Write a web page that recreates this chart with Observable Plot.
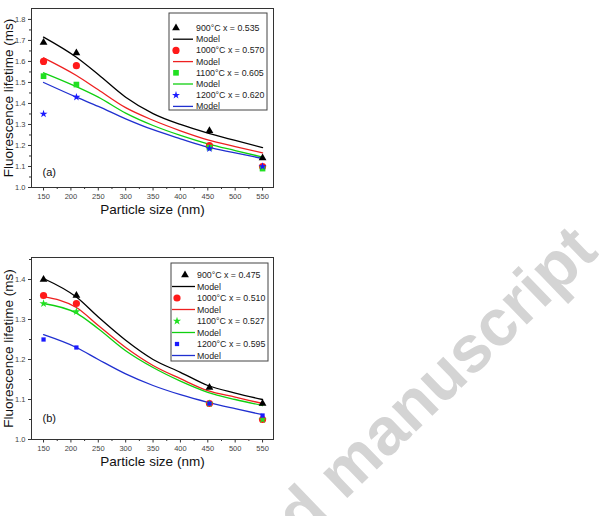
<!DOCTYPE html>
<html><head><meta charset="utf-8">
<script src="https://cdn.jsdelivr.net/npm/d3@7"></script>
<script src="https://cdn.jsdelivr.net/npm/@observablehq/plot@0.6"></script>
<style>
body{margin:0;background:#fff;width:603px;height:516px;overflow:hidden;position:relative;font-family:"Liberation Sans",Arial,sans-serif}
.panel{position:absolute;left:0}
#overlay{position:absolute;left:0;top:0;pointer-events:none}
</style></head><body>
<div id="pa" class="panel" style="top:0px"></div>
<div id="pb" class="panel" style="top:250px"></div>
<svg id="overlay" width="603" height="516"></svg>
<script>
// ---- data ----
const particleSize = [150, 210, 453, 550];
const modelSize = [150, 210, 250, 300, 350, 400, 450, 500, 550];
const xTicks = [150, 200, 250, 300, 350, 400, 450, 500, 550];
const xMinor = [175, 225, 275, 325, 375, 425, 475, 525];
const xLabel = "Particle size (nm)";
const yLabel = "Fluorescence lifetime (ms)";

// panel (a)
const namesA = ["900°C x = 0.535", "1000°C x = 0.570", "1100°C x = 0.605", "1200°C x = 0.620"];
const a900 = [1.69, 1.64, 1.27, 1.14];
const a1000 = [1.60, 1.58, 1.20, 1.10];
const a1100 = [1.53, 1.49, 1.19, 1.09];
const a1200 = [1.35, 1.43, 1.185, 1.10];
const modelA900 = [1.716, 1.62, 1.538, 1.43, 1.352, 1.30, 1.259, 1.224, 1.19];
const modelA1000 = [1.617, 1.533, 1.465, 1.38, 1.32, 1.27, 1.227, 1.195, 1.165];
const modelA1100 = [1.546, 1.48, 1.43, 1.354, 1.295, 1.248, 1.208, 1.176, 1.145];
const modelA1200 = [1.50, 1.43, 1.386, 1.327, 1.275, 1.232, 1.192, 1.165, 1.138];
const yTicksA = [1.0, 1.1, 1.2, 1.3, 1.4, 1.5, 1.6, 1.7, 1.8];
const yMinorA = [1.05, 1.15, 1.25, 1.35, 1.45, 1.55, 1.65, 1.75];

// panel (b)
const namesB = ["900°C x = 0.475", "1000°C x = 0.510", "1100°C x = 0.527", "1200°C x = 0.595"];
const b900 = [1.40, 1.36, 1.13, 1.09];
const b1000 = [1.36, 1.34, 1.09, 1.05];
const b1100 = [1.34, 1.32, 1.09, 1.05];
const b1200 = [1.25, 1.23, 1.09, 1.06];
const modelB900 = [1.4025, 1.356, 1.306, 1.248, 1.20, 1.168, 1.135, 1.116, 1.10];
const modelB1000 = [1.357, 1.33, 1.285, 1.23, 1.185, 1.152, 1.122, 1.106, 1.09];
const modelB1100 = [1.34, 1.316, 1.277, 1.222, 1.18, 1.146, 1.118, 1.10, 1.085];
const modelB1200 = [1.262, 1.23, 1.20, 1.164, 1.135, 1.112, 1.093, 1.077, 1.062];
const yTicksB = [1.0, 1.1, 1.2, 1.3, 1.4];
const yMinorB = [1.05, 1.15, 1.25, 1.35, 1.45];

// ---- styles ----
const FONT = "Liberation Sans, Arial, Helvetica, sans-serif";
const dotColors = ["#000000", "#ff1a1a", "#22e022", "#1a1aff"];
const lineColors = ["#000000", "#ee2020", "#10d010", "#2030d0"];

function panel(opts) {
  const {yDomain, yTicks, yMinor, meas, models, symbols, radii, tag, marginTop, marginBottom, tagDy} = opts;
  const marks = [
    Plot.axisX({ticks: xTicks, tickSize: 3.5, tickPadding: 2.5, fontSize: 7.5, label: null, tickFormat: d => String(d), stroke: "#333", fill: "#444"}),
    Plot.axisX({ticks: xMinor, tickSize: 2, text: null, label: null, stroke: "#333"}),
    Plot.axisY({ticks: yTicks, tickSize: 3, tickPadding: 3, fontSize: 7.5, label: null, tickFormat: d3.format(".1f"), stroke: "#333", fill: "#444"}),
    Plot.axisY({ticks: yMinor, tickSize: 2, text: null, label: null, stroke: "#333"})
  ];
  models.forEach((vals, i) => {
    const rows = vals.map((v, j) => ({x: modelSize[j], y: v}));
    marks.push(Plot.line(rows, {x: "x", y: "y", stroke: lineColors[i], strokeWidth: 1.3, curve: "monotone-x"}));
  });
  meas.forEach((vals, i) => {
    const rows = vals.map((v, j) => ({x: particleSize[j], y: v}));
    marks.push(Plot.dot(rows, {x: "x", y: "y", symbol: symbols[i], r: radii[i], fill: dotColors[i], stroke: "none"}));
  });
  marks.push(
    Plot.frame({stroke: "#333", strokeWidth: 1}),
    Plot.text([tag], {frameAnchor: "bottom-left", dx: 11, dy: tagDy, fontSize: 11, textAnchor: "start", fill: "#111"}),
    Plot.text([xLabel], {frameAnchor: "bottom", dy: 26, fontSize: 13.5, textAnchor: "middle", fill: "#111"}),
    Plot.text([yLabel], {frameAnchor: "left", dx: -22.5, rotate: -90, fontSize: 13.5, textAnchor: "middle", fill: "#111"})
  );
  return Plot.plot({
    width: 340, height: 240,
    marginLeft: 31, marginRight: 67, marginTop, marginBottom,
    style: {fontFamily: FONT, background: "white", overflow: "visible"},
    x: {domain: [128, 570]},
    y: {domain: yDomain},
    marks
  });
}

const symA = ["triangle", "circle", "square", "star"];
const radA = [2.9, 3.6, 3.2, 2.5];
const symB = ["triangle", "circle", "star", "square"];
const radB = [2.9, 3.6, 2.6, 2.4];

document.getElementById("pa").append(panel({
  yDomain: [1.0, 1.852], yTicks: yTicksA, yMinor: yMinorA,
  meas: [a900, a1000, a1100, a1200],
  models: [modelA900, modelA1000, modelA1100, modelA1200],
  symbols: symA, radii: radA,
  tag: "(a)", marginTop: 8, marginBottom: 53, tagDy: -12
}));
document.getElementById("pb").append(panel({
  yDomain: [1.0, 1.455], yTicks: yTicksB, yMinor: yMinorB,
  meas: [b900, b1000, b1100, b1200],
  models: [modelB900, modelB1000, modelB1100, modelB1200],
  symbols: symB, radii: radB,
  tag: "(b)", marginTop: 7, marginBottom: 51, tagDy: -18
}));

// ---- legends + watermark overlay ----
const svg = d3.select("#overlay");
const symMap = {triangle: d3.symbolTriangle, circle: d3.symbolCircle, square: d3.symbolSquare, star: d3.symbolStar};
function legend(box, names, symbols, radii, markerX) {
  svg.append("rect").attr("x", box.x).attr("y", box.y).attr("width", box.w).attr("height", box.h)
    .attr("fill", "white").attr("stroke", "#444").attr("stroke-width", 1);
  names.forEach((name, i) => {
    const ys = box.y + box.row0 + i * box.step * 2;
    const yl = ys + box.step;
    svg.append("path").attr("d", d3.symbol().type(symMap[symbols[i]]).size(radii[i] * radii[i] * Math.PI)())
      .attr("transform", `translate(${markerX[i]},${ys})`).attr("fill", dotColors[i]);
    svg.append("text").attr("x", box.tx).attr("y", ys).attr("dy", "0.35em").attr("font-size", 8.8)
      .attr("font-family", FONT).attr("fill", "#222").text(name);
    svg.append("line").attr("x1", box.lx1).attr("x2", box.lx2).attr("y1", yl).attr("y2", yl)
      .attr("stroke", lineColors[i]).attr("stroke-width", 1.3);
    svg.append("text").attr("x", box.tx).attr("y", yl).attr("dy", "0.35em").attr("font-size", 8.8)
      .attr("font-family", FONT).attr("fill", "#222").text("Model");
  });
}
legend({x: 169, y: 13, w: 98, h: 97, row0: 15, step: 11.2, tx: 196, lx1: 173, lx2: 193},
  namesA, symA, radA, [176, 176, 176, 176]);
legend({x: 171, y: 263, w: 97, h: 98, row0: 12, step: 11.5, tx: 197, lx1: 172, lx2: 195},
  namesB, symB, radB, [185, 177, 177, 177]);

svg.append("text").attr("transform", "translate(600,254) rotate(-44)").attr("text-anchor", "end")
  .attr("font-size", 66).attr("font-weight", "bold").attr("font-family", FONT)
  .attr("fill", "#d4d4d4").text("Accepted manuscript");
</script>
</body></html>
